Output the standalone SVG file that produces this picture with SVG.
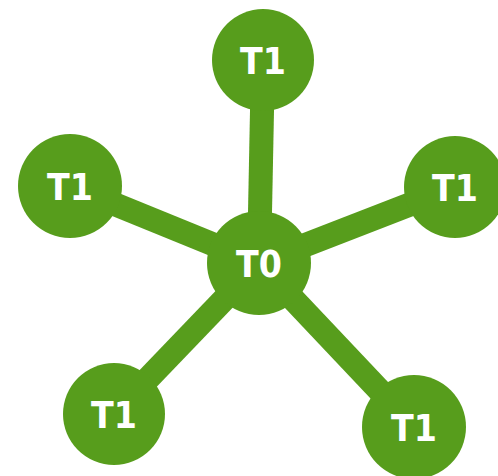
<svg xmlns="http://www.w3.org/2000/svg" width="498" height="476" viewBox="0 0 498 476">
  <style>
    .edge { stroke: #579d1c; stroke-width: 24; fill: none; }
    .node circle { fill: #579d1c; }
    .node text { fill: #ffffff; font-family: "DejaVu Sans Condensed", "DejaVu Sans", sans-serif; font-stretch: condensed; font-weight: bold; font-size: 37px; text-anchor: middle; dominant-baseline: central; }
  </style>
  <rect width="498" height="476" fill="#ffffff"/>
  <g id="connectors">
    <line class="edge" x1="259" y1="263" x2="263" y2="60"/>
    <line class="edge" x1="259" y1="263" x2="70" y2="186"/>
    <line class="edge" x1="259" y1="263" x2="455" y2="187"/>
    <line class="edge" x1="259" y1="263" x2="114" y2="414"/>
    <line class="edge" x1="259" y1="263" x2="414" y2="427"/>
  </g>
  <g id="t0" class="node"><circle cx="259" cy="263" r="52"/><text x="259" y="264">T0</text></g>
  <g id="t1-top" class="node"><circle cx="263" cy="60" r="51"/><text x="263" y="61">T1</text></g>
  <g id="t1-left" class="node"><circle cx="70" cy="186" r="52"/><text x="70" y="187">T1</text></g>
  <g id="t1-right" class="node"><circle cx="455" cy="187" r="51"/><text x="455" y="188">T1</text></g>
  <g id="t1-bottom-left" class="node"><circle cx="114" cy="414" r="51"/><text x="114" y="415">T1</text></g>
  <g id="t1-bottom-right" class="node"><circle cx="414" cy="427" r="52"/><text x="414" y="428">T1</text></g>
</svg>
